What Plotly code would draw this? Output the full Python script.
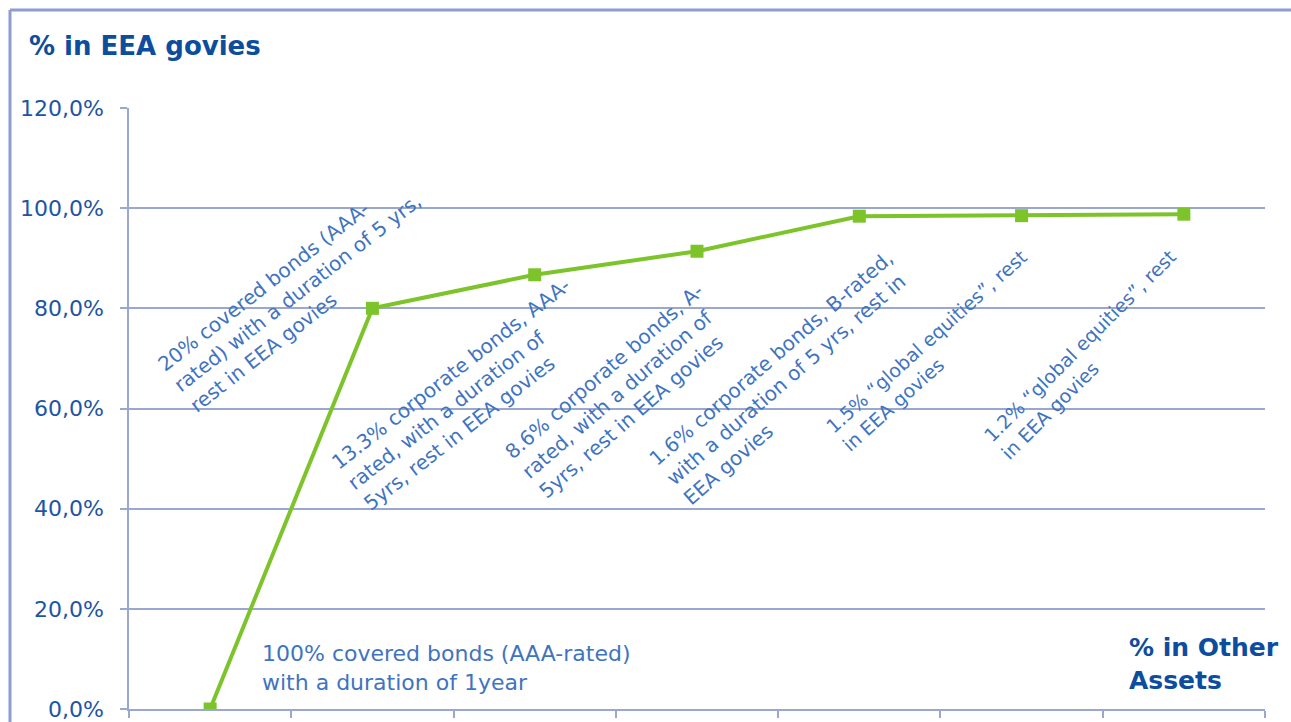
import plotly.graph_objects as go

# ---- data ----
scenarios = [
    "100% covered bonds (AAA-rated) with a duration of 1year",
    "20% covered bonds (AAA-rated) with a duration of 5 yrs, rest in EEA govies",
    "13.3% corporate bonds, AAA-rated, with a duration of 5yrs, rest in EEA govies",
    "8.6% corporate bonds, A-rated, with a duration of 5yrs, rest in EEA govies",
    "1.6% corporate bonds, B-rated, with a duration of 5 yrs, rest in EEA govies",
    "1.5% “global equities”, rest in EEA govies",
    "1.2% “global equities”, rest in EEA govies",
]
pct_eea_govies = [0.0, 0.80, 0.867, 0.914, 0.984, 0.985, 0.988]
y_ticks = [0.0, 0.2, 0.4, 0.6, 0.8, 1.0, 1.2]

# label texts as shown on the chart (line breaks)
label_texts = [
    "100% covered bonds (AAA-rated)<br>with a duration of 1year",
    "20% covered bonds (AAA-<br>rated) with a duration of 5 yrs,<br>rest in EEA govies",
    "13.3% corporate bonds, AAA-<br>rated, with a duration of<br>5yrs, rest in EEA govies",
    "8.6% corporate bonds, A-<br>rated, with a duration of<br>5yrs, rest in EEA govies",
    "1.6% corporate bonds, B-rated,<br>with a duration of 5 yrs, rest in<br>EEA govies",
    "1.5% “global equities”, rest<br>in EEA govies",
    "1.2% “global equities”, rest<br>in EEA govies",
]
label_sizes = [22, 20, 20, 20, 20, 19, 19]
label_angles = [0, -38, -38, -41, -41, -42, -45]
# label centre positions (x in category units, y as fraction)
label_x = [0.307, 0.536, 1.583, 2.532, 3.561, 4.467, 5.415]
label_y = [0.081, 0.831, 0.629, 0.635, 0.661, 0.715, 0.707]

x_idx = list(range(len(scenarios)))

BLUE_DARK = "#0d4d9e"
BLUE_TXT = "#3f74bf"
GRID = "#9aa8d0"
GREEN = "#7dc42a"

fig = go.Figure()
fig.add_trace(go.Scatter(
    x=x_idx, y=pct_eea_govies, mode="lines+markers",
    line=dict(color=GREEN, width=4),
    marker=dict(symbol="square", size=13, color=GREEN),
    text=scenarios, hoverinfo="text+y",
))

annotations = []
for i, t in enumerate(label_texts):
    annotations.append(dict(
        x=label_x[i], y=label_y[i], xref="x", yref="y", text=t,
        showarrow=False, xanchor="left" if i == 0 else "center",
        yanchor="middle", align="left",
        textangle=label_angles[i],
        font=dict(family="DejaVu Sans", size=label_sizes[i], color=BLUE_TXT)))

annotations.append(dict(
    x=-0.0898, y=1.103, xref="paper", yref="paper", text="<b>% in EEA govies</b>",
    showarrow=False, xanchor="left", yanchor="middle",
    font=dict(family="DejaVu Sans", size=26, color=BLUE_DARK)))
annotations.append(dict(
    x=0.8785, y=0.075, xref="paper", yref="paper", text="<b>% in Other<br>Assets</b>",
    showarrow=False, xanchor="left", yanchor="middle", align="left",
    font=dict(family="DejaVu Sans", size=25, color=BLUE_DARK)))

shapes = [
    dict(type="line", xref="paper", yref="paper", x0=-0.10475, x1=-0.10475,
         y0=1.1631, y1=-0.03, line=dict(color="#8d9dcc", width=3)),
    dict(type="line", xref="paper", yref="paper", x0=-0.10475, x1=1.03,
         y0=1.1631, y1=1.1631, line=dict(color="#8d9dcc", width=3)),
]

fig.update_layout(
    width=1291, height=722,
    margin=dict(l=129, r=26, t=108, b=13),
    paper_bgcolor="white", plot_bgcolor="white",
    showlegend=False,
    separators=",.",
    annotations=annotations,
    shapes=shapes,
    xaxis=dict(
        range=[-0.5, len(scenarios) - 0.5],
        tickvals=[i - 0.5 for i in range(len(scenarios) + 1)],
        ticktext=[""] * (len(scenarios) + 1),
        showgrid=False, zeroline=False, automargin=False,
        showline=True, linecolor=GRID, linewidth=1.5,
        ticks="outside", ticklen=7, tickcolor=GRID, tickwidth=1.5,
        fixedrange=True,
    ),
    yaxis=dict(
        range=[0, 1.2],
        tickvals=y_ticks, tickformat=".1%",
        showgrid=True, gridcolor=GRID, gridwidth=1.5,
        zeroline=False, automargin=False,
        showline=True, linecolor=GRID, linewidth=1.5,
        ticks="outside", ticklen=7, tickcolor=GRID, tickwidth=1.5,
        ticklabelstandoff=12,
        tickfont=dict(family="DejaVu Sans", size=22, color="#1d55a5"),
        fixedrange=True,
    ),
)

fig.write_html("out.html", config={"displayModeBar": False},
               post_script="document.body.style.margin='0px';"
                           "document.body.style.overflow='hidden';")
